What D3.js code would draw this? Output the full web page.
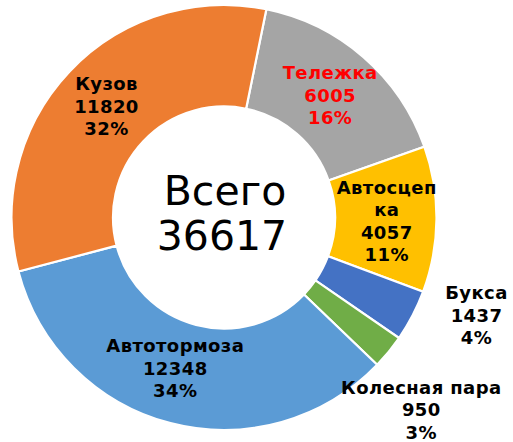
<!DOCTYPE html>
<html>
<head>
<meta charset="utf-8">
<script src="https://cdn.jsdelivr.net/npm/d3@7"></script>
<style>
  body { margin: 0; background: #fff; }
  svg { display: block; }
</style>
</head>
<body>
<div id="chart"></div>
<script>
// data
const categories = ['Тележка', 'Автосцепка', 'Букса', 'Колесная пара', 'Автотормоза', 'Кузов'];
const values = [6005, 4057, 1437, 950, 12348, 11820];
const colors = ['#A5A5A5', '#FFC000', '#4472C4', '#70AD47', '#5B9BD5', '#ED7D31'];
// label text lines (Автосцепка is wrapped like in the original)
const nameLines = [['Тележка'], ['Автосцеп', 'ка'], ['Букса'], ['Колесная пара'], ['Автотормоза'], ['Кузов']];
const labelColors = ['#FF0000', '#000', '#000', '#000', '#000', '#000'];
// nudges of labels from the slice centroid
const labelShift = [[0, 0], [1, 2], [109, 23], [72, 90], [-8, -6], [0, 0]];

const w = 513;
const h = 442;
const cx = 224;
const cy = 217.5;
const outerR = 212.5;
const innerR = 111;
const lineH = 22.5;

const total = d3.sum(values);

const svg = d3.select('#chart').append('svg')
  .attr('width', w)
  .attr('height', h);

const g = svg.append('g')
  .attr('transform', 'translate(' + cx + ',' + cy + ')');

// first slice starts a bit right of 12 o'clock
const startA = 11.5 * Math.PI / 180;
const pie = d3.pie().sort(null).value(d => d)
  .startAngle(startA)
  .endAngle(startA + 2 * Math.PI);
const arcs = pie(values);

const arc = d3.arc().innerRadius(innerR).outerRadius(outerR);

g.selectAll('path').data(arcs).enter().append('path')
  .attr('d', arc)
  .attr('fill', (d, i) => colors[i])
  .attr('stroke', '#fff')
  .attr('stroke-width', 2.2);

// data labels
const labels = g.selectAll('text.lbl').data(arcs).enter().append('text')
  .attr('class', 'lbl')
  .attr('text-anchor', 'middle')
  .attr('font-family', 'DejaVu Sans, Verdana, sans-serif')
  .attr('font-weight', 'bold')
  .attr('font-size', '18px')
  .attr('letter-spacing', '0.4px')
  .attr('fill', (d, i) => labelColors[i]);

labels.each(function (d, i) {
  const c = arc.centroid(d);
  const x = c[0] + labelShift[i][0];
  const y = c[1] + labelShift[i][1];
  const lines = nameLines[i].concat([String(values[i]), Math.round(values[i] / total * 100) + '%']);
  const y0 = y - (lines.length - 1) / 2 * lineH + 6.5;
  d3.select(this).selectAll('tspan').data(lines).enter().append('tspan')
    .attr('x', x)
    .attr('y', (t, k) => y0 + k * lineH)
    .text(t => t);
});

// total in the hole
const center = g.append('text')
  .attr('text-anchor', 'middle')
  .attr('font-family', 'DejaVu Sans, Verdana, sans-serif')
  .attr('font-size', '41px')
  .attr('fill', '#000');
center.append('tspan').attr('x', 1).attr('y', -12.5).text('Всего');
center.append('tspan').attr('x', -2).attr('y', 32.5).text(total);
</script>
</body>
</html>
